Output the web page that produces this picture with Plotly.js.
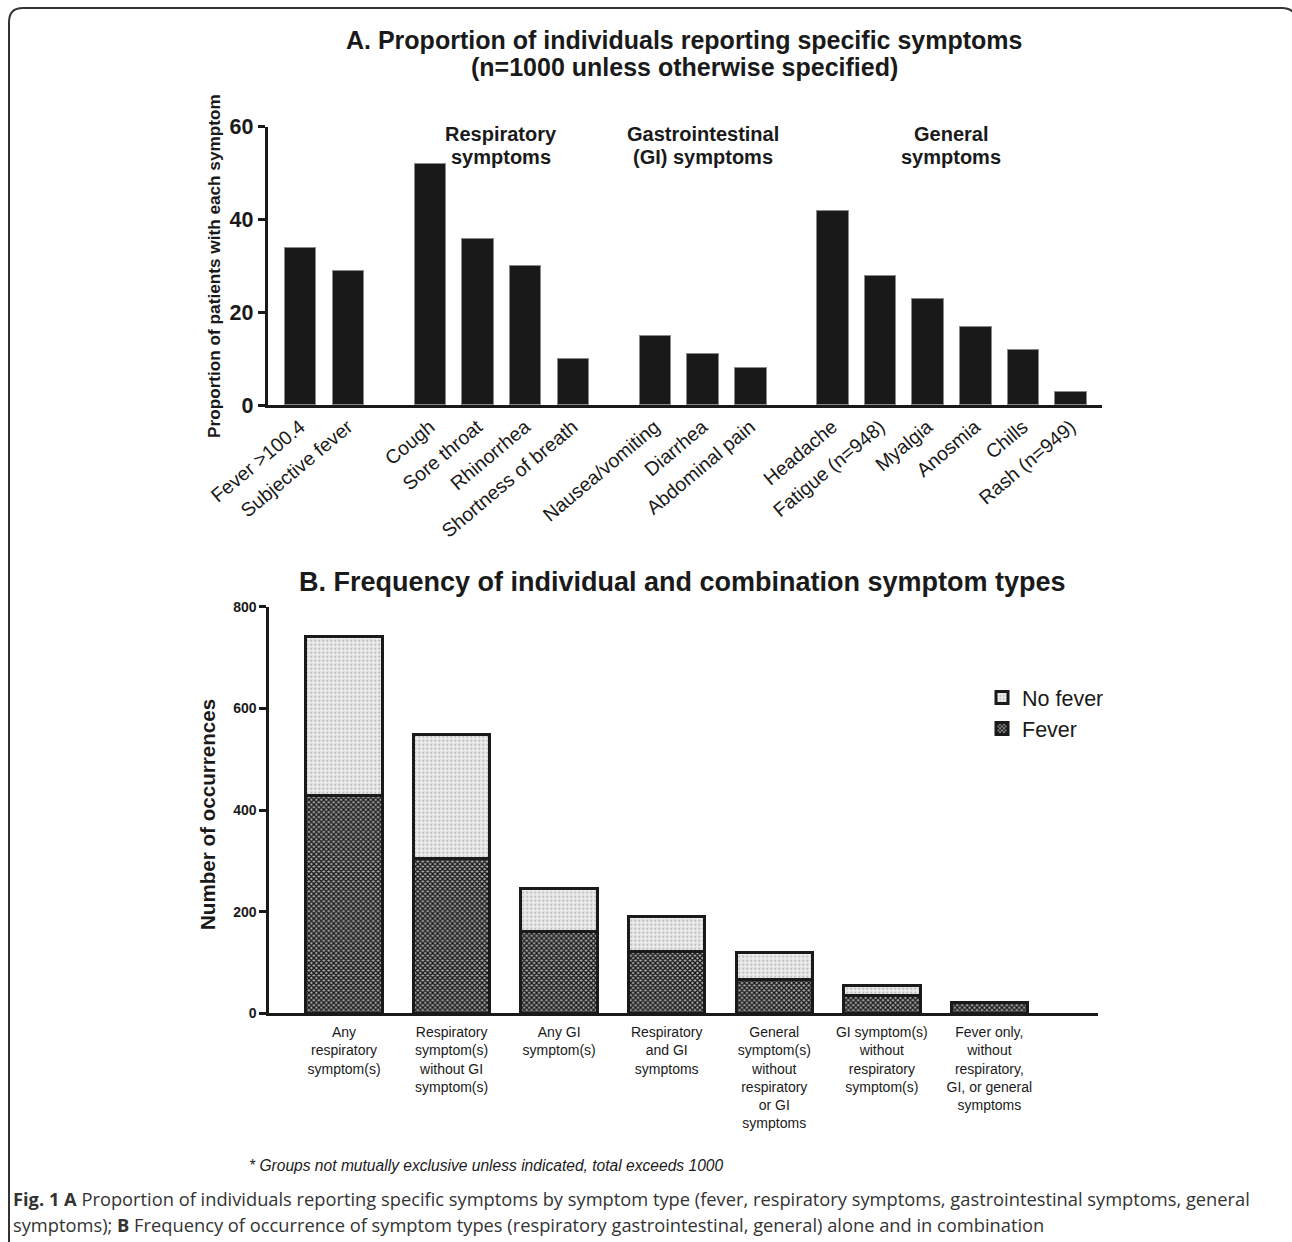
<!DOCTYPE html>
<html>
<head>
<meta charset="utf-8">
<script src="https://cdn.plot.ly/plotly-3.0.1.min.js"></script>
<style>
html,body{margin:0;padding:0;background:#fff;}
#chart{width:1292px;height:1242px;}
</style>
</head>
<body>
<div id="chart"></div>
<script>
// ---------- Panel A data ----------
const symptoms = ["Fever >100.4","Subjective fever","Cough","Sore throat","Rhinorrhea","Shortness of breath",
  "Nausea/vomiting","Diarrhea","Abdominal pain","Headache","Fatigue (n=948)","Myalgia","Anosmia","Chills","Rash (n=949)"];
const proportions = [34,29,52,36,30,10,15,11,8,42,28,23,17,12,3];
const symptomGroups = ["Fever","Fever","Resp","Resp","Resp","Resp","GI","GI","GI","Gen","Gen","Gen","Gen","Gen","Gen"];
const groupKeys = ["Resp","GI","Gen"];
const groupLabels = [["Respiratory","symptoms"],["Gastrointestinal","(GI) symptoms"],["General","symptoms"]];

// ---------- Panel B data ----------
const combos = ["Any<br>respiratory<br>symptom(s)",
  "Respiratory<br>symptom(s)<br>without GI<br>symptom(s)",
  "Any GI<br>symptom(s)",
  "Respiratory<br>and GI<br>symptoms",
  "General<br>symptom(s)<br>without<br>respiratory<br>or GI<br>symptoms",
  "GI symptom(s)<br>without<br>respiratory<br>symptom(s)",
  "Fever only,<br>without<br>respiratory,<br>GI, or general<br>symptoms"];
const feverCounts = [428,305,160,121,67,36,21];
const noFeverCounts = [313,244,86,70,52,18,0];

// ---------- helpers ----------
const W = 1292, H = 1242;
const px = v => v / W;
const py = v => 1 - v / H;
const FONT = "Liberation Sans, Arial, sans-serif";
const INK = "#1a1a1a";

// bar positions with extra gap between symptom groups
const GAP = 0.72;
const positions = [];
{
  let g = 0;
  symptomGroups.forEach((grp, i) => {
    if (i > 0 && grp !== symptomGroups[i-1]) g++;
    positions.push(i + g * GAP);
  });
}
const groupCenters = groupKeys.map(k => {
  const xs = positions.filter((p, i) => symptomGroups[i] === k);
  return (Math.min(...xs) + Math.max(...xs)) / 2;
});

const traces = [
  {
    type: "bar", x: positions, y: proportions, width: 0.66,
    xaxis: "x", yaxis: "y", showlegend: false, hoverinfo: "x+y",
    marker: {color: "#191919", line: {color: "#8a8a8a", width: 1}}
  },
  {
    type: "bar", name: "Fever", x: combos, y: feverCounts, width: 0.71,
    xaxis: "x2", yaxis: "y2",
    marker: {color: "#666",
      pattern: {shape: "x", fgcolor: "#151515", bgcolor: "#adadad", size: 3.5, solidity: 0.62},
      line: {color: INK, width: 3}}
  },
  {
    type: "bar", name: "No fever", x: combos, y: noFeverCounts, width: 0.71,
    xaxis: "x2", yaxis: "y2",
    marker: {color: "#e8e8e8",
      pattern: {shape: ".", fgcolor: "#bdbdbd", bgcolor: "#ececec", size: 4, solidity: 0.25},
      line: {color: INK, width: 3}}
  }
];

const annotations = [
  {text: "<b>A. Proportion of individuals reporting specific symptoms</b>", xref: "paper", yref: "paper",
   x: px(684), y: py(40), xanchor: "center", yanchor: "middle", showarrow: false,
   font: {family: FONT, size: 25, color: INK}},
  {text: "<b>(n=1000 unless otherwise specified)</b>", xref: "paper", yref: "paper",
   x: px(684), y: py(67), xanchor: "center", yanchor: "middle", showarrow: false,
   font: {family: FONT, size: 25, color: INK}},
  {text: "<b>Proportion of patients with each symptom</b>", xref: "paper", yref: "paper",
   x: px(214), y: py(266), xanchor: "center", yanchor: "middle", textangle: -90, showarrow: false,
   font: {family: FONT, size: 17.2, color: INK}},
  {text: "<b>B. Frequency of individual and combination symptom types</b>", xref: "paper", yref: "paper",
   x: px(682), y: py(582), xanchor: "center", yanchor: "middle", showarrow: false,
   font: {family: FONT, size: 27, color: INK}},
  {text: "<b>Number of occurrences</b>", xref: "paper", yref: "paper",
   x: px(207), y: py(815), xanchor: "center", yanchor: "middle", textangle: -90, showarrow: false,
   font: {family: FONT, size: 20.6, color: INK}},
  {text: "<i>* Groups not mutually exclusive unless indicated, total exceeds 1000</i>", xref: "paper", yref: "paper",
   x: px(247), y: py(1165), xanchor: "left", yanchor: "middle", showarrow: false,
   font: {family: FONT, size: 15.6, color: INK}},
  {text: "<b>Fig. 1 A</b> Proportion of individuals reporting specific symptoms by symptom type (fever, respiratory symptoms, gastrointestinal symptoms, general",
   xref: "paper", yref: "paper", x: px(11), y: py(1198), xanchor: "left", yanchor: "middle", showarrow: false,
   font: {family: "Open Sans, Noto Sans, sans-serif", size: 18.3, color: "#333"}},
  {text: "symptoms); <b>B</b> Frequency of occurrence of symptom types (respiratory gastrointestinal, general) alone and in combination",
   xref: "paper", yref: "paper", x: px(11), y: py(1224), xanchor: "left", yanchor: "middle", showarrow: false,
   font: {family: "Open Sans, Noto Sans, sans-serif", size: 18.3, color: "#333"}}
];
// group headings: two lines each, placed in data coordinates above the groups
const headingLineY = [58.4, 53.45];
groupLabels.forEach((lines, i) => {
  lines.forEach((t, j) => {
    annotations.push({text: "<b>" + t + "</b>", xref: "x", yref: "y", x: groupCenters[i], y: headingLineY[j],
      xanchor: "center", yanchor: "middle", showarrow: false,
      font: {family: FONT, size: 20, color: INK}});
  });
});

// rounded frame around the figure
const fx0 = 9, fy0 = 8, fx1 = 1296, r = 14;
const framePath = `M ${px(fx0)},${py(H+5)} L ${px(fx0)},${py(fy0+r)} Q ${px(fx0)},${py(fy0)} ${px(fx0+r)},${py(fy0)} ` +
  `L ${px(fx1-r)},${py(fy0)} Q ${px(fx1)},${py(fy0)} ${px(fx1)},${py(fy0+r)} L ${px(fx1)},${py(H+5)}`;

const layout = {
  width: W, height: H,
  margin: {l: 0, r: 0, t: 0, b: 0},
  paper_bgcolor: "#fff", plot_bgcolor: "rgba(0,0,0,0)",
  barmode: "stack",
  font: {family: FONT, color: INK},
  showlegend: true,
  legend: {x: px(982), y: py(677), xanchor: "left", yanchor: "top", traceorder: "reversed",
    font: {family: FONT, size: 21.5, color: INK}, bgcolor: "rgba(0,0,0,0)", itemwidth: 30},
  xaxis: {domain: [px(267.7), px(1101.7)], anchor: "y", range: [-0.68, 16.81],
    tickvals: positions, ticktext: symptoms, tickangle: -40, ticks: "",
    tickfont: {family: FONT, size: 19.5, color: INK},
    showline: true, linewidth: 3, linecolor: INK, showgrid: false, zeroline: false, fixedrange: true},
  yaxis: {domain: [py(405), py(126.7)], anchor: "x", range: [0, 60], tickvals: [0, 20, 40, 60],
    ticks: "outside", ticklen: 7, tickwidth: 3, tickcolor: INK,
    tickfont: {family: FONT, size: 21.5, color: INK, weight: "bold"},
    showline: true, linewidth: 3, linecolor: INK, showgrid: false, zeroline: false, fixedrange: true},
  xaxis2: {domain: [px(269.3), px(1098)], anchor: "y2", type: "category", range: [-0.695, 7.01],
    ticks: "outside", ticklen: 4, tickcolor: "rgba(0,0,0,0)",
    tickfont: {family: FONT, size: 14, color: INK},
    showline: true, linewidth: 3, linecolor: INK, showgrid: false, zeroline: false, fixedrange: true},
  yaxis2: {domain: [py(1013.3), py(606.7)], anchor: "x2", range: [0, 800], tickvals: [0, 200, 400, 600, 800],
    ticks: "outside", ticklen: 7, tickwidth: 3, tickcolor: INK,
    tickfont: {family: FONT, size: 14, color: INK, weight: "bold"},
    showline: true, linewidth: 3, linecolor: INK, showgrid: false, zeroline: false, fixedrange: true},
  annotations: annotations,
  shapes: [{type: "path", xref: "paper", yref: "paper", path: framePath,
    line: {color: "#333", width: 2}, layer: "below"}]
};

Plotly.newPlot("chart", traces, layout, {displayModeBar: false, staticPlot: true});
</script>
</body>
</html>
